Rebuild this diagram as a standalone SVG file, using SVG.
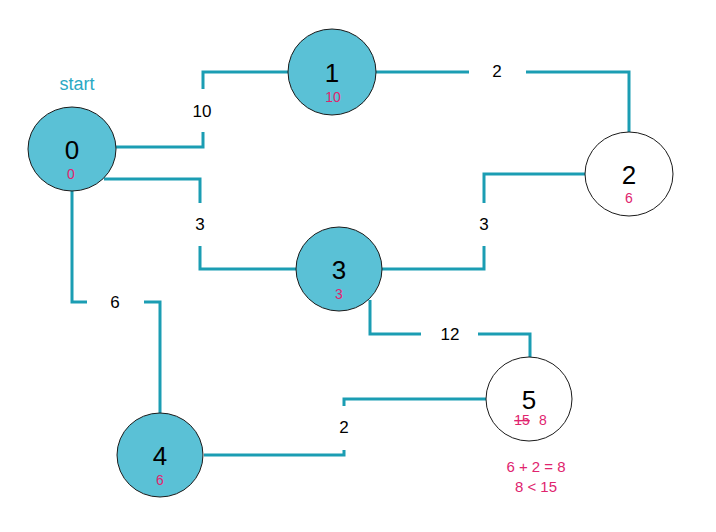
<svg xmlns="http://www.w3.org/2000/svg" width="716" height="532" viewBox="0 0 716 532">
<style>
.e{fill:none;stroke:#1b9db3;stroke-width:3;stroke-linejoin:miter}
.n{stroke:#1a1a1a;stroke-width:1}
.v{fill:#5ac1d6}
.w{fill:#ffffff}
.t{font-family:"Liberation Sans",Arial,sans-serif;font-size:26px;fill:#000;text-anchor:middle}
.d{font-family:"Liberation Sans",Arial,sans-serif;font-size:14px;fill:#e0246e;text-anchor:middle}
.l{font-family:"Liberation Sans",Arial,sans-serif;font-size:17px;fill:#000;text-anchor:middle}
.c{font-family:"Liberation Sans",Arial,sans-serif;font-size:15px;fill:#e0246e;text-anchor:middle}
</style>
<rect width="716" height="532" fill="#fff"/>
<g id="connectors">
<polyline class="e" points="116,147 203,147 203,132"/>
<polyline class="e" points="203,89 203,72 288,72"/>
<polyline class="e" points="104,179 200,179 200,203"/>
<polyline class="e" points="200,246 200,269 296,269"/>
<polyline class="e" points="72,191 72,302 87,302"/>
<polyline class="e" points="144,302 160,302 160,413"/>
<polyline class="e" points="376,72 469,72"/>
<polyline class="e" points="526,72 629,72 629,132"/>
<polyline class="e" points="382,269 484,269 484,246"/>
<polyline class="e" points="484,203 484,174 586,174"/>
<polyline class="e" points="370,300 370,334 421,334"/>
<polyline class="e" points="478,334 530,334 530,357"/>
<polyline class="e" points="204,455 344,455 344,450"/>
<polyline class="e" points="344,406 344,399 486,399"/>
<text class="l" x="202" y="117">10</text>
<text class="l" x="200" y="230">3</text>
<text class="l" x="115" y="308">6</text>
<text class="l" x="497" y="77">2</text>
<text class="l" x="484" y="230">3</text>
<text class="l" x="450" y="340">12</text>
<text class="l" x="344" y="433">2</text>
</g>
<text x="77" y="90" font-family="Liberation Sans,Arial,sans-serif" font-size="18" fill="#2aa9c4" text-anchor="middle">start</text>
<g id="node0">
<ellipse class="n v" cx="72" cy="149" rx="44" ry="42"/>
<text class="t" x="72" y="159">0</text>
<text class="d" x="71" y="179">0</text>
</g>
<g id="node1">
<ellipse class="n v" cx="332" cy="72" rx="44" ry="43"/>
<text class="t" x="332" y="82">1</text>
<text class="d" x="333" y="102">10</text>
</g>
<g id="node2">
<ellipse class="n w" cx="629" cy="174" rx="44" ry="42"/>
<text class="t" x="629" y="184">2</text>
<text class="d" x="629" y="203">6</text>
</g>
<g id="node3">
<ellipse class="n v" cx="339" cy="269" rx="43" ry="42"/>
<text class="t" x="339" y="279">3</text>
<text class="d" x="339" y="299">3</text>
</g>
<g id="node4">
<ellipse class="n v" cx="160" cy="455" rx="43" ry="42"/>
<text class="t" x="160" y="465">4</text>
<text class="d" x="160" y="485">6</text>
</g>
<g id="node5">
<ellipse class="n w" cx="529" cy="399" rx="43" ry="42"/>
<text class="t" x="529" y="409">5</text>
<text class="d" x="522" y="425" text-decoration="line-through">15</text>
<text class="d" x="543" y="425">8</text>
</g>
<text class="c" x="536" y="472">6 + 2 = 8</text>
<text class="c" x="536" y="492">8 &lt; 15</text>
</svg>
